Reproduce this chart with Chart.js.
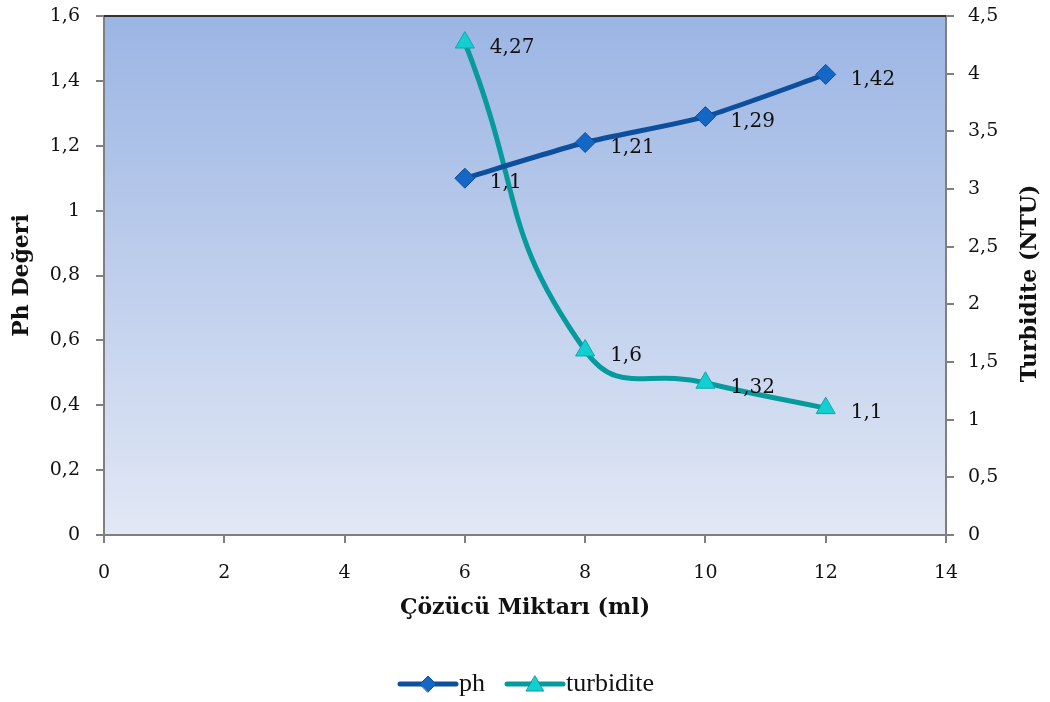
<!DOCTYPE html>
<html>
<head>
	<meta charset="utf-8">
	<title>Ph ve Turbidite</title>
	<script src="https://cdn.jsdelivr.net/npm/chart.js@4"></script>
	<style>
		body { margin: 0; background: #fff; }
	</style>
</head>
<body>
	<canvas id="chart" width="1050" height="702"></canvas>

	<script type="text/javascript">

		// çözücü miktarı (ml)
		var miktar = [6, 8, 10, 12];
		var phDegeri = [1.1, 1.21, 1.29, 1.42];
		var turbidite = [4.27, 1.6, 1.32, 1.1];

		var seriAdlari = ['ph', 'turbidite'];
		var xBaslik = 'Çözücü Miktarı (ml)';
		var solBaslik = 'Ph Değeri';
		var sagBaslik = 'Turbidite (NTU)';

		var phRenk = '#0d4f9c';
		var phDolgu = '#1467c4';
		var turRenk = '#079a9d';
		var turDolgu = '#14cfd2';

		var sayiFont = '"DejaVu Serif", serif';

		function virgul(v) {
			return String(Number(v.toFixed(2))).replace('.', ',');
		}

		function noktalar(xs, ys) {
			return xs.map(function(x, i) { return { x: x, y: ys[i] }; });
		}

		// dikey eksenlerin genişliği sabit, etiket boşluğu yok
		function dikeyEksen(s) {
			s.width = 104;
			s.paddingTop = 0;
			s.paddingBottom = 0;
		}

		// arka plan, üst çizgi, etiketler, eksen başlıkları ve açıklama
		var cizimEklentisi = {
			id: 'cizim',
			beforeDraw: function(chart) {
				var ctx = chart.ctx, a = chart.chartArea;
				var g = ctx.createLinearGradient(0, a.top, 0, a.bottom);
				g.addColorStop(0, '#9bb5e4');
				g.addColorStop(1, '#e2e8f5');
				ctx.save();
				ctx.fillStyle = g;
				ctx.fillRect(a.left, a.top, a.right - a.left, a.bottom - a.top);
				ctx.restore();
			},
			afterDraw: function(chart) {
				var ctx = chart.ctx, a = chart.chartArea;
				ctx.save();

				ctx.strokeStyle = '#333';
				ctx.lineWidth = 2;
				ctx.beginPath();
				ctx.moveTo(a.left, a.top);
				ctx.lineTo(a.right, a.top);
				ctx.stroke();

				// veri etiketleri
				ctx.fillStyle = '#111';
				ctx.font = '20px ' + sayiFont;
				ctx.textAlign = 'left';
				ctx.textBaseline = 'middle';
				chart.data.datasets.forEach(function(ds, di) {
					var meta = chart.getDatasetMeta(di);
					meta.data.forEach(function(el, i) {
						ctx.fillText(virgul(ds.data[i].y), el.x + 25, el.y + 5);
					});
				});

				// eksen başlıkları
				ctx.font = 'bold 22px ' + sayiFont;
				ctx.textAlign = 'center';
				ctx.fillText(xBaslik, (a.left + a.right) / 2, 608);

				ctx.save();
				ctx.translate(22, (a.top + a.bottom) / 2);
				ctx.rotate(-Math.PI / 2);
				ctx.fillText(solBaslik, 0, 0);
				ctx.restore();

				ctx.save();
				ctx.translate(1030, (a.top + a.bottom) / 2 + 8);
				ctx.rotate(-Math.PI / 2);
				ctx.fillText(sagBaslik, 0, 0);
				ctx.restore();

				// açıklama
				var y = 684;
				var ogeler = [
					{ x: 400, ad: seriAdlari[0], renk: phRenk, dolgu: phDolgu, stil: 'rectRot', r: 8 },
					{ x: 507, ad: seriAdlari[1], renk: turRenk, dolgu: turDolgu, stil: 'triangle', r: 10 }
				];
				ogeler.forEach(function(o) {
					ctx.strokeStyle = o.renk;
					ctx.lineWidth = 5;
					ctx.lineCap = 'round';
					ctx.beginPath();
					ctx.moveTo(o.x, y);
					ctx.lineTo(o.x + 56, y);
					ctx.stroke();
					ctx.fillStyle = o.dolgu;
					ctx.lineWidth = 1;
					Chart.helpers.drawPoint(ctx, { pointStyle: o.stil, radius: o.r, borderWidth: 1 }, o.x + 28, y + (o.stil === 'triangle' ? 2 : 0));
					ctx.fillStyle = '#111';
					ctx.font = '26px "Liberation Serif", serif';
					ctx.textAlign = 'left';
					ctx.fillText(o.ad, o.x + 59, y);
				});

				ctx.restore();
			}
		};

		var eksenCizgi = '#7f7f7f';

		var config = {
			type: 'line',
			data: {
				datasets: [
					{
						label: seriAdlari[0],
						data: noktalar(miktar, phDegeri),
						yAxisID: 'y',
						borderColor: phRenk,
						backgroundColor: phDolgu,
						borderWidth: 5,
						tension: 0.2,
						pointStyle: 'rectRot',
						pointRadius: 10,
						pointHoverRadius: 10,
						pointBorderColor: phRenk,
						pointBackgroundColor: phDolgu,
						pointBorderWidth: 1,
						fill: false
					},
					{
						label: seriAdlari[1],
						data: noktalar(miktar, turbidite),
						yAxisID: 'y1',
						borderColor: turRenk,
						backgroundColor: turDolgu,
						borderWidth: 5,
						tension: 0.5,
						pointStyle: 'triangle',
						pointRadius: 11,
						pointHoverRadius: 11,
						pointBorderColor: '#0aa9ac',
						pointBackgroundColor: turDolgu,
						pointBorderWidth: 1,
						fill: false
					}
				]
			},
			options: {
				responsive: false,
				animation: false,
				layout: { padding: { top: 16, left: 0, right: 0, bottom: 0 } },
				plugins: {
					legend: { display: false },
					tooltip: { enabled: false }
				},
				scales: {
					x: {
						type: 'linear',
						min: 0,
						max: 14,
						afterFit: function(s) { s.height = 167; s.paddingLeft = 0; s.paddingRight = 0; },
						ticks: {
							stepSize: 2,
							padding: 19,
							color: '#111',
							font: { family: sayiFont, size: 19 },
							callback: function(v) { return virgul(v); }
						},
						grid: { drawOnChartArea: false, tickLength: 8, color: eksenCizgi, lineWidth: 2 },
						border: { color: eksenCizgi, width: 2 }
					},
					y: {
						position: 'left',
						min: 0,
						max: 1.6,
						afterFit: dikeyEksen,
						ticks: {
							stepSize: 0.2,
							padding: 16,
							color: '#111',
							font: { family: sayiFont, size: 19 },
							callback: function(v) { return virgul(v); }
						},
						grid: { drawOnChartArea: false, tickLength: 8, color: eksenCizgi, lineWidth: 2 },
						border: { color: eksenCizgi, width: 2 }
					},
					y1: {
						position: 'right',
						min: 0,
						max: 4.5,
						afterFit: dikeyEksen,
						ticks: {
							stepSize: 0.5,
							padding: 14,
							color: '#111',
							font: { family: sayiFont, size: 19 },
							callback: function(v) { return virgul(v); }
						},
						grid: { drawOnChartArea: false, tickLength: 8, color: eksenCizgi, lineWidth: 2 },
						border: { color: eksenCizgi, width: 2 }
					}
				}
			},
			plugins: [cizimEklentisi]
		};

		var ctx = document.getElementById('chart').getContext('2d');
		var chart = new Chart(ctx, config);

	</script>
</body>
</html>
